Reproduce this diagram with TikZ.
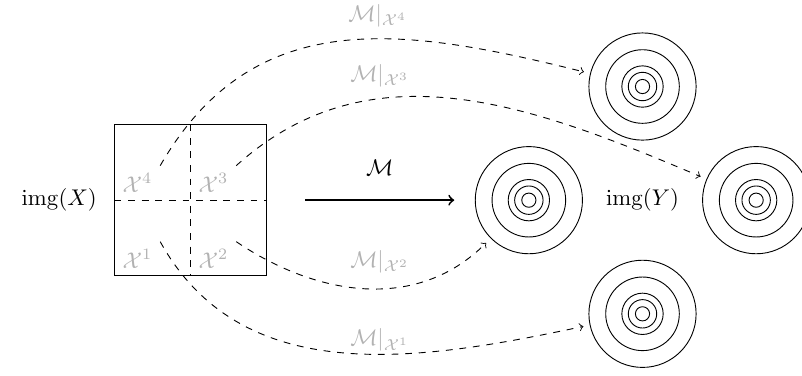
\documentclass[tikz,border=0pt]{standalone}
\usepackage{amsmath,amssymb}
\usepackage{tikz}
\usepackage{xcolor}
\usetikzlibrary{positioning}

\begin{document}
\begin{tikzpicture}[
  ring/.style={circle, draw, minimum size=1.66cm, inner sep=0pt, outer sep=3pt},
  part/.style={text=black!30},
  restr/.style={dashed, ->}]
  \useasboundingbox (-2.95,-2.71) rectangle (9.47,3.10);
  % img(X), cut in four parts
  \node[draw, minimum size=2.34cm, inner sep=0pt] (sq) at (0,0) {};
  \draw[dashed] (sq.north) -- (sq.south); \draw[dashed] (sq.west) -- (sq.east);
  \node[left=1.5mm of sq] (imgx) {$\operatorname{img}(X)$};
  \node[part, anchor=south west] (x4) at (sq.west) {$\mathcal{X}^4$}; \node[part, anchor=south west] (x3) at (sq.center) {$\mathcal{X}^3$};
  \node[part, anchor=south west] (x1) at (sq.south west) {$\mathcal{X}^1$}; \node[part, anchor=south west] (x2) at (sq.south) {$\mathcal{X}^2$};
  % img(Y)
  \node (imgy) at (7,0) {$\operatorname{img}(Y)$};
  \node[ring] (ym) at (5.24,0) {}; \node[ring] (yt) at (7,1.76) {}; \node[ring] (yb) at (7,-1.76) {}; \node[ring] (yr) at (8.76,0) {};
  \foreach \c in {ym,yt,yb,yr}
    \foreach \r in {0.57,0.32,0.22,0.11}
      \draw (\c) circle (\r);
  % M and its restrictions
  \draw[thick, ->] ([xshift=6mm]sq.east) -- node[above=2.5mm] (m) {$\mathcal{M}$} ([xshift=-2.2mm]ym.west);
  \draw[restr] (x4.north east) to[out=60, in=166, looseness=1.1] (yt);
  \draw[restr] (x3.north east) to[out=42, in=157] (yr);
  \draw[restr] (x2.north east) to[out=-34, in=225] (ym);
  \draw[restr] (x1.north east) to[out=-61, in=192] (yb);
  \node[part] (m4) at (2.9,2.86) {$\mathcal{M}|_{\mathcal{X}^4}$}; \node[part] (m3) at (2.93,1.93) {$\mathcal{M}|_{\mathcal{X}^3}$};
  \node[part] (m2) at (2.93,-0.96) {$\mathcal{M}|_{\mathcal{X}^2}$}; \node[part] (m1) at (2.93,-2.17) {$\mathcal{M}|_{\mathcal{X}^1}$};
\end{tikzpicture}
\end{document}
